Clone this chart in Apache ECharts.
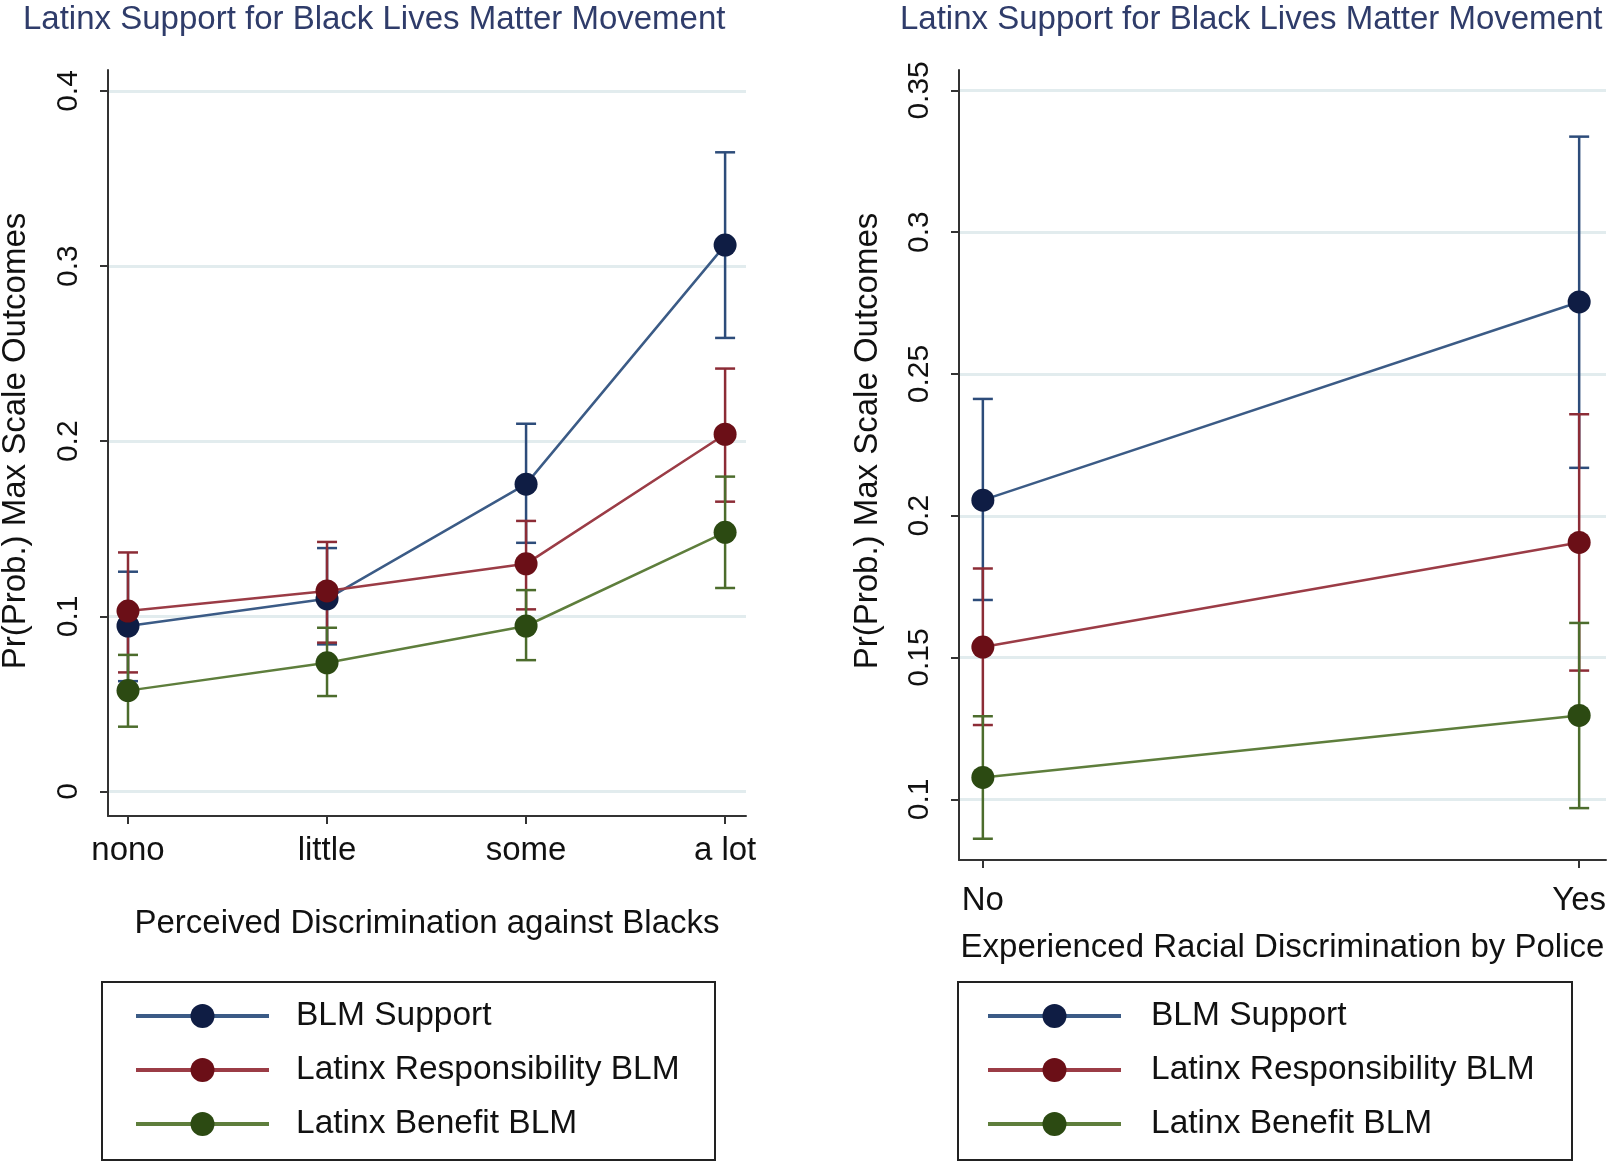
<!DOCTYPE html>
<html>
<head>
<meta charset="utf-8">
<script src="https://cdn.jsdelivr.net/npm/echarts@6/dist/echarts.min.js"></script>
<style>
  html, body { margin: 0; padding: 0; background: #fff; }
  #main { width: 1609px; height: 1162px; }
</style>
</head>
<body>
<div id="main"></div>
<script>
// left panel: perceived discrimination against Blacks
var leftCats = ['nono', 'little', 'some', 'a lot'];
var leftTicks = [0, 0.1, 0.2, 0.3, 0.4];
var leftBlm = [0.0945, 0.110, 0.1755, 0.312];
var leftBlmLo = [0.063, 0.084, 0.142, 0.259];
var leftBlmHi = [0.1255, 0.139, 0.210, 0.365];
var leftResp = [0.103, 0.1145, 0.130, 0.204];
var leftRespLo = [0.068, 0.085, 0.104, 0.1655];
var leftRespHi = [0.1365, 0.1425, 0.1545, 0.2415];
var leftBen = [0.0576, 0.0735, 0.0945, 0.148];
var leftBenLo = [0.037, 0.0545, 0.075, 0.1162];
var leftBenHi = [0.078, 0.0935, 0.115, 0.1798];

// right panel: experienced racial discrimination by police
var rightCats = ['No', 'Yes'];
var rightTicks = [0.1, 0.15, 0.2, 0.25, 0.3, 0.35];
var rightBlm = [0.2055, 0.2754];
var rightBlmLo = [0.1703, 0.2169];
var rightBlmHi = [0.2412, 0.3337];
var rightResp = [0.1537, 0.1906];
var rightRespLo = [0.1262, 0.1454];
var rightRespHi = [0.1814, 0.2358];
var rightBen = [0.1077, 0.1296];
var rightBenLo = [0.0861, 0.0969];
var rightBenHi = [0.1293, 0.1622];

var names = ['BLM Support', 'Latinx Responsibility BLM', 'Latinx Benefit BLM'];
var lineColors = ['#3b5b86', '#9b3c46', '#5e7e3c'];
var dotColors = ['#0f1d44', '#6b0f17', '#2c4a12'];
var barColors = ['#2d4c7a', '#8c2c36', '#4c6c2c'];

var FONT = '"Liberation Sans", Arial, sans-serif';

var chartDom = document.getElementById('main');
var myChart = echarts.init(chartDom);

function pts(vals) {
  return vals.map(function (v, i) { return [i, v]; });
}
function bars(lo, hi) {
  return lo.map(function (v, i) { return [i, v, hi[i]]; });
}
function errRender(color) {
  return function (params, api) {
    var x = api.value(0);
    var a = api.coord([x, api.value(1)]);
    var b = api.coord([x, api.value(2)]);
    var w = 10;
    var st = { stroke: color, lineWidth: 2.5 };
    return {
      type: 'group',
      children: [
        { type: 'line', shape: { x1: a[0], y1: a[1], x2: b[0], y2: b[1] }, style: st },
        { type: 'line', shape: { x1: a[0] - w, y1: a[1], x2: a[0] + w, y2: a[1] }, style: st },
        { type: 'line', shape: { x1: b[0] - w, y1: b[1], x2: b[0] + w, y2: b[1] }, style: st }
      ]
    };
  };
}

var series = [];
var panels = [
  { vals: [leftBlm, leftResp, leftBen], lo: [leftBlmLo, leftRespLo, leftBenLo], hi: [leftBlmHi, leftRespHi, leftBenHi] },
  { vals: [rightBlm, rightResp, rightBen], lo: [rightBlmLo, rightRespLo, rightBenLo], hi: [rightBlmHi, rightRespHi, rightBenHi] }
];
panels.forEach(function (p, g) {
  for (var k = 0; k < 3; k++) {
    series.push({
      type: 'line',
      name: names[k],
      xAxisIndex: g,
      yAxisIndex: g,
      data: pts(p.vals[k]),
      symbol: 'circle',
      symbolSize: 23,
      lineStyle: { color: lineColors[k], width: 2.5 },
      itemStyle: { color: dotColors[k] },
      z: 3
    });
  }
  for (var k = 0; k < 3; k++) {
    series.push({
      type: 'custom',
      name: names[k] + ' CI',
      xAxisIndex: g,
      yAxisIndex: g,
      renderItem: errRender(barColors[k]),
      data: bars(p.lo[k], p.hi[k]),
      z: 2,
      silent: true
    });
  }
});

function yAxisOpt(g, min, max, ticks) {
  return {
    type: 'value',
    gridIndex: g,
    min: min,
    max: max,
    axisLine: { show: true, onZero: false, lineStyle: { color: '#333', width: 2 } },
    axisTick: { show: true, length: 8, customValues: ticks, lineStyle: { color: '#333', width: 2 } },
    axisLabel: { customValues: ticks, rotate: 90, margin: 24, color: '#111', fontSize: 30, fontFamily: FONT },
    splitLine: { show: true, lineStyle: { color: '#e2ecee', width: 3 } }
  };
}
function xAxisOpt(g, min, max, cats, name, gap, labMargin) {
  var vals = cats.map(function (c, i) { return i; });
  return {
    type: 'value',
    gridIndex: g,
    min: min,
    max: max,
    name: name,
    nameLocation: 'middle',
    nameGap: gap,
    nameTextStyle: { color: '#111', fontSize: 33, fontFamily: FONT },
    axisLine: { show: true, onZero: false, lineStyle: { color: '#333', width: 2 } },
    axisTick: { show: true, length: 8, customValues: vals, lineStyle: { color: '#333', width: 2 } },
    axisLabel: {
      customValues: vals, margin: labMargin, color: '#111', fontSize: 33, fontFamily: FONT,
      formatter: function (v) { return cats[Math.round(v)]; }
    },
    splitLine: { show: false }
  };
}

function legendOpt(left, textPad) {
  return {
    orient: 'vertical',
    left: left,
    top: 994,
    itemWidth: 133,
    itemHeight: 30,
    itemGap: 20,
    data: names,
    selectedMode: false,
    lineStyle: { width: 4 },
    textStyle: { color: '#111', fontSize: 33.5, fontFamily: FONT, padding: [0, 0, 0, textPad] }
  };
}

option = {
  backgroundColor: '#fff',
  animation: false,
  grid: [
    { left: 108, top: 70, width: 638, height: 746, outerBoundsMode: 'none' },
    { left: 959, top: 70, width: 647, height: 790, outerBoundsMode: 'none' }
  ],
  xAxis: [
    xAxisOpt(0, -0.1005, 3.105, leftCats, 'Perceived Discrimination against Blacks', 91, 18),
    xAxisOpt(1, -0.040, 1.045, rightCats, 'Experienced Racial Discrimination by Police', 71, 24)
  ],
  yAxis: [
    yAxisOpt(0, -0.014, 0.412, leftTicks),
    yAxisOpt(1, 0.0786, 0.3572, rightTicks)
  ],
  legend: [legendOpt(129, 22), legendOpt(981, 25)],
  graphic: [
    { type: 'text', left: 23, top: 3, style: { text: 'Latinx Support for Black Lives Matter Movement', fill: '#2f3c6a', font: '33px ' + FONT } },
    { type: 'text', left: 900, top: 3, style: { text: 'Latinx Support for Black Lives Matter Movement', fill: '#2f3c6a', font: '33px ' + FONT } },
    { type: 'text', x: 16, y: 441, rotation: Math.PI / 2, style: { text: 'Pr(Prob.) Max Scale Outcomes', fill: '#111', font: '33px ' + FONT, align: 'center', verticalAlign: 'middle' } },
    { type: 'text', x: 868, y: 441, rotation: Math.PI / 2, style: { text: 'Pr(Prob.) Max Scale Outcomes', fill: '#111', font: '33px ' + FONT, align: 'center', verticalAlign: 'middle' } },
    { type: 'rect', shape: { x: 102, y: 982, width: 613, height: 178 }, style: { fill: 'none', stroke: '#222', lineWidth: 2 } },
    { type: 'rect', shape: { x: 958, y: 982, width: 614, height: 178 }, style: { fill: 'none', stroke: '#222', lineWidth: 2 } }
  ],
  series: series
};
myChart.setOption(option);
</script>
</body>
</html>
